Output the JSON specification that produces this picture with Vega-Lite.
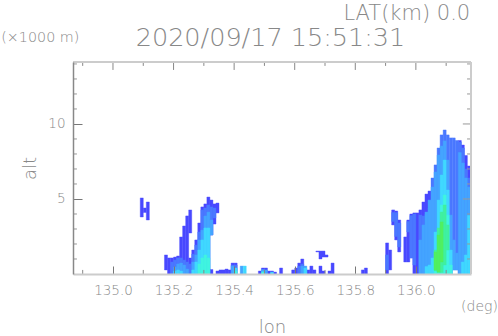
{"$schema":"https://vega.github.io/schema/vega-lite/v6.json","width":398,"height":212,"autosize":{"type":"none"},"padding":{"left":73,"top":62,"right":27,"bottom":62},"background":"white","config":{"view":{"stroke":null}},
"layer":[
{"data":{"values":[
{"lon":135.09,"lon2":135.10,"alt":3.8,"alt2":5.07,"level":1},{"lon":135.10,"lon2":135.11,"alt":4.1,"alt2":4.4,"level":1},{"lon":135.11,"lon2":135.12,"alt":3.6,"alt2":4.8,"level":1},
{"lon":135.17,"lon2":135.18,"alt":0.27,"alt2":1.27,"level":1},{"lon":135.18,"lon2":135.19,"alt":0,"alt2":1.07,"level":1},{"lon":135.19,"lon2":135.20,"alt":0,"alt2":1.07,"level":1},{"lon":135.20,"lon2":135.21,"alt":0,"alt2":1.13,"level":1},{"lon":135.21,"lon2":135.22,"alt":0,"alt2":1.2,"level":1},{"lon":135.22,"lon2":135.23,"alt":0,"alt2":2.47,"level":1},{"lon":135.23,"lon2":135.24,"alt":0,"alt2":3.2,"level":1},{"lon":135.24,"lon2":135.25,"alt":0,"alt2":3.87,"level":1},{"lon":135.25,"lon2":135.26,"alt":2.73,"alt2":4.27,"level":1},{"lon":135.25,"lon2":135.26,"alt":0,"alt2":1.07,"level":1},{"lon":135.26,"lon2":135.27,"alt":0,"alt2":1.6,"level":1},{"lon":135.27,"lon2":135.28,"alt":0,"alt2":2.27,"level":1},{"lon":135.28,"lon2":135.29,"alt":0,"alt2":3.4,"level":1},{"lon":135.29,"lon2":135.30,"alt":0,"alt2":4.47,"level":1},{"lon":135.30,"lon2":135.31,"alt":0,"alt2":4.67,"level":1},{"lon":135.31,"lon2":135.32,"alt":0,"alt2":5.13,"level":1},{"lon":135.32,"lon2":135.33,"alt":2.6,"alt2":4.93,"level":1},{"lon":135.32,"lon2":135.33,"alt":0,"alt2":0.3,"level":1},{"lon":135.33,"lon2":135.34,"alt":3.33,"alt2":4.67,"level":1},{"lon":135.34,"lon2":135.35,"alt":4.07,"alt2":4.73,"level":1},
{"lon":135.34,"lon2":135.35,"alt":0,"alt2":0.2,"level":1},{"lon":135.35,"lon2":135.36,"alt":0,"alt2":0.27,"level":1},{"lon":135.36,"lon2":135.37,"alt":0,"alt2":0.27,"level":1},{"lon":135.37,"lon2":135.38,"alt":0,"alt2":0.33,"level":1},{"lon":135.38,"lon2":135.39,"alt":0,"alt2":0.27,"level":1},{"lon":135.39,"lon2":135.40,"alt":0,"alt2":0.73,"level":1},{"lon":135.40,"lon2":135.41,"alt":0,"alt2":0.73,"level":1},
{"lon":135.48,"lon2":135.49,"alt":0,"alt2":0.2,"level":1},{"lon":135.49,"lon2":135.50,"alt":0,"alt2":0.4,"level":1},{"lon":135.50,"lon2":135.51,"alt":0,"alt2":0.4,"level":1},{"lon":135.51,"lon2":135.52,"alt":0,"alt2":0.2,"level":1},{"lon":135.52,"lon2":135.53,"alt":0,"alt2":0.2,"level":1},{"lon":135.53,"lon2":135.54,"alt":0,"alt2":0.13,"level":1},{"lon":135.55,"lon2":135.56,"alt":0,"alt2":0.4,"level":1},
{"lon":135.59,"lon2":135.60,"alt":0,"alt2":0.27,"level":1},{"lon":135.60,"lon2":135.61,"alt":0,"alt2":0.4,"level":1},{"lon":135.61,"lon2":135.62,"alt":0,"alt2":0.73,"level":1},{"lon":135.62,"lon2":135.63,"alt":0,"alt2":1.0,"level":1},{"lon":135.64,"lon2":135.65,"alt":0,"alt2":0.27,"level":1},{"lon":135.65,"lon2":135.66,"alt":0,"alt2":0.53,"level":1},{"lon":135.66,"lon2":135.67,"alt":0,"alt2":0.27,"level":1},{"lon":135.67,"lon2":135.68,"alt":1.47,"alt2":1.53,"level":1},{"lon":135.68,"lon2":135.69,"alt":0,"alt2":0.53,"level":1},{"lon":135.68,"lon2":135.69,"alt":1.0,"alt2":1.53,"level":1},{"lon":135.69,"lon2":135.70,"alt":1.13,"alt2":1.53,"level":1},{"lon":135.69,"lon2":135.70,"alt":0,"alt2":0.2,"level":1},{"lon":135.70,"lon2":135.71,"alt":1.13,"alt2":1.27,"level":1},{"lon":135.71,"lon2":135.72,"alt":0,"alt2":0.2,"level":1},{"lon":135.72,"lon2":135.73,"alt":0,"alt2":0.73,"level":1},{"lon":135.82,"lon2":135.83,"alt":0,"alt2":0.27,"level":1},{"lon":135.83,"lon2":135.84,"alt":0,"alt2":0.4,"level":1},
{"lon":135.90,"lon2":135.91,"alt":0,"alt2":2.07,"level":1},{"lon":135.91,"lon2":135.92,"alt":0.27,"alt2":1.6,"level":1},{"lon":135.92,"lon2":135.93,"alt":3.27,"alt2":4.27,"level":1},{"lon":135.93,"lon2":135.94,"alt":2.27,"alt2":4.2,"level":1},{"lon":135.94,"lon2":135.95,"alt":1.47,"alt2":3.6,"level":1},
{"lon":135.96,"lon2":135.97,"alt":0.8,"alt2":2.47,"level":1},{"lon":135.97,"lon2":135.98,"alt":0.8,"alt2":3.6,"level":1},{"lon":135.98,"lon2":135.99,"alt":1.07,"alt2":4,"level":1},{"lon":135.99,"lon2":136.00,"alt":0,"alt2":4.07,"level":1},{"lon":136.00,"lon2":136.01,"alt":0,"alt2":4.07,"level":1},{"lon":136.01,"lon2":136.02,"alt":0,"alt2":4.27,"level":1},{"lon":136.02,"lon2":136.03,"alt":0,"alt2":4.8,"level":1},{"lon":136.03,"lon2":136.04,"alt":0,"alt2":5.33,"level":1},{"lon":136.04,"lon2":136.05,"alt":0,"alt2":5.53,"level":1},{"lon":136.14,"lon2":136.15,"alt":0,"alt2":8.9,"level":1},{"lon":136.15,"lon2":136.16,"alt":0,"alt2":8.6,"level":1},{"lon":136.16,"lon2":136.17,"alt":0,"alt2":7.9,"level":1},{"lon":136.17,"lon2":136.18,"alt":0,"alt2":7.2,"level":1},
{"lon":135.19,"lon2":135.20,"alt":0,"alt2":0.8,"level":2},{"lon":135.20,"lon2":135.21,"alt":0,"alt2":0.93,"level":2},{"lon":135.21,"lon2":135.22,"alt":0,"alt2":1.07,"level":2},{"lon":135.22,"lon2":135.23,"alt":0,"alt2":1.07,"level":2},{"lon":135.23,"lon2":135.24,"alt":0,"alt2":0.93,"level":2},{"lon":135.24,"lon2":135.25,"alt":0,"alt2":0.8,"level":2},{"lon":135.25,"lon2":135.26,"alt":0,"alt2":0.67,"level":2},
{"lon":135.26,"lon2":135.27,"alt":0,"alt2":1.33,"level":2},{"lon":135.27,"lon2":135.28,"alt":0,"alt2":1.93,"level":2},{"lon":135.28,"lon2":135.29,"alt":0,"alt2":2.8,"level":2},{"lon":135.29,"lon2":135.30,"alt":0,"alt2":4.27,"level":2},{"lon":135.30,"lon2":135.31,"alt":0,"alt2":4.4,"level":2},{"lon":135.31,"lon2":135.32,"alt":0,"alt2":4.6,"level":2},{"lon":135.32,"lon2":135.33,"alt":2.6,"alt2":4.47,"level":2},{"lon":135.33,"lon2":135.34,"alt":3.73,"alt2":4.4,"level":2},
{"lon":135.39,"lon2":135.40,"alt":0,"alt2":0.6,"level":2},{"lon":135.40,"lon2":135.41,"alt":0,"alt2":0.6,"level":2},{"lon":135.61,"lon2":135.62,"alt":0,"alt2":0.53,"level":2},{"lon":135.62,"lon2":135.63,"alt":0,"alt2":0.67,"level":2},
{"lon":135.90,"lon2":135.91,"alt":0.27,"alt2":1.27,"level":2},{"lon":135.92,"lon2":135.93,"alt":3.5,"alt2":4.1,"level":2},{"lon":135.93,"lon2":135.94,"alt":2.5,"alt2":4.1,"level":2},{"lon":135.94,"lon2":135.95,"alt":1.8,"alt2":3.4,"level":2},
{"lon":135.97,"lon2":135.98,"alt":2.8,"alt2":3.5,"level":2},{"lon":135.98,"lon2":135.99,"alt":1.07,"alt2":3.9,"level":2},{"lon":135.99,"lon2":136.00,"alt":0.6,"alt2":4,"level":2},{"lon":136.01,"lon2":136.02,"alt":0,"alt2":3.93,"level":2},{"lon":136.02,"lon2":136.03,"alt":0,"alt2":3.87,"level":2},{"lon":136.03,"lon2":136.04,"alt":0,"alt2":4,"level":2},{"lon":136.04,"lon2":136.05,"alt":0,"alt2":4.4,"level":2},{"lon":136.05,"lon2":136.06,"alt":0,"alt2":6.4,"level":2},{"lon":136.06,"lon2":136.07,"alt":0,"alt2":7.27,"level":2},{"lon":136.07,"lon2":136.08,"alt":0,"alt2":8.4,"level":2},{"lon":136.08,"lon2":136.09,"alt":0,"alt2":9.27,"level":2},{"lon":136.09,"lon2":136.10,"alt":0,"alt2":9.6,"level":2},{"lon":136.10,"lon2":136.11,"alt":0,"alt2":9.27,"level":2},{"lon":136.11,"lon2":136.12,"alt":0,"alt2":9.07,"level":2},{"lon":136.12,"lon2":136.13,"alt":0.27,"alt2":9.07,"level":2},{"lon":136.13,"lon2":136.14,"alt":0.27,"alt2":8.9,"level":2},{"lon":136.14,"lon2":136.15,"alt":0,"alt2":8.8,"level":2},{"lon":136.15,"lon2":136.16,"alt":0,"alt2":8.4,"level":2},{"lon":136.16,"lon2":136.17,"alt":0,"alt2":7,"level":2},{"lon":136.17,"lon2":136.18,"alt":0,"alt2":6.4,"level":2},
{"lon":135.20,"lon2":135.21,"alt":0,"alt2":0.47,"level":3},{"lon":135.21,"lon2":135.22,"alt":0,"alt2":0.67,"level":3},{"lon":135.22,"lon2":135.23,"alt":0,"alt2":0.73,"level":3},{"lon":135.23,"lon2":135.24,"alt":0,"alt2":0.6,"level":3},{"lon":135.24,"lon2":135.25,"alt":0,"alt2":0.33,"level":3},
{"lon":135.26,"lon2":135.27,"alt":0,"alt2":0.8,"level":3},{"lon":135.27,"lon2":135.28,"alt":0,"alt2":1.27,"level":3},{"lon":135.28,"lon2":135.29,"alt":0,"alt2":2.27,"level":3},{"lon":135.29,"lon2":135.30,"alt":0,"alt2":2.93,"level":3},{"lon":135.30,"lon2":135.31,"alt":0,"alt2":3.87,"level":3},{"lon":135.31,"lon2":135.32,"alt":0,"alt2":4.13,"level":3},{"lon":135.32,"lon2":135.33,"alt":2.6,"alt2":3.6,"level":3},
{"lon":135.39,"lon2":135.40,"alt":0,"alt2":0.53,"level":3},{"lon":135.42,"lon2":135.43,"alt":0,"alt2":0.53,"level":3},{"lon":135.49,"lon2":135.50,"alt":0,"alt2":0.3,"level":3},{"lon":135.50,"lon2":135.51,"alt":0,"alt2":0.27,"level":3},{"lon":135.62,"lon2":135.63,"alt":0,"alt2":0.53,"level":3},{"lon":135.63,"lon2":135.64,"alt":0,"alt2":0.53,"level":3},
{"lon":136.01,"lon2":136.02,"alt":0,"alt2":2.27,"level":3},{"lon":136.02,"lon2":136.03,"alt":0,"alt2":3.27,"level":3},{"lon":136.03,"lon2":136.04,"alt":0,"alt2":4.13,"level":3},{"lon":136.04,"lon2":136.05,"alt":0,"alt2":4.93,"level":3},{"lon":136.05,"lon2":136.06,"alt":0,"alt2":5.8,"level":3},{"lon":136.06,"lon2":136.07,"alt":0,"alt2":6.8,"level":3},{"lon":136.07,"lon2":136.08,"alt":0,"alt2":7.93,"level":3},{"lon":136.08,"lon2":136.09,"alt":0,"alt2":8.53,"level":3},{"lon":136.09,"lon2":136.10,"alt":0,"alt2":8.87,"level":3},{"lon":136.10,"lon2":136.11,"alt":0,"alt2":7.6,"level":3},{"lon":136.11,"lon2":136.12,"alt":0,"alt2":3.93,"level":3},{"lon":136.12,"lon2":136.13,"alt":0.27,"alt2":2.27,"level":3},{"lon":136.13,"lon2":136.14,"alt":0.27,"alt2":1.4,"level":3},{"lon":136.14,"lon2":136.15,"alt":0,"alt2":8.1,"level":3},{"lon":136.15,"lon2":136.16,"alt":0,"alt2":7.4,"level":3},{"lon":136.16,"lon2":136.17,"alt":0,"alt2":6.4,"level":3},{"lon":136.17,"lon2":136.18,"alt":0,"alt2":5.8,"level":3},
{"lon":135.20,"lon2":135.21,"alt":0,"alt2":0.2,"level":4},{"lon":135.21,"lon2":135.22,"alt":0,"alt2":0.27,"level":4},{"lon":135.22,"lon2":135.23,"alt":0,"alt2":0.2,"level":4},
{"lon":135.26,"lon2":135.27,"alt":0,"alt2":0.27,"level":4},{"lon":135.27,"lon2":135.28,"alt":0,"alt2":0.8,"level":4},{"lon":135.28,"lon2":135.29,"alt":0,"alt2":1.6,"level":4},{"lon":135.29,"lon2":135.30,"alt":0,"alt2":2.27,"level":4},{"lon":135.30,"lon2":135.31,"alt":0,"alt2":3.07,"level":4},{"lon":135.31,"lon2":135.32,"alt":0,"alt2":3.07,"level":4},
{"lon":135.40,"lon2":135.41,"alt":0,"alt2":0.4,"level":4},{"lon":135.43,"lon2":135.44,"alt":0,"alt2":0.53,"level":4},{"lon":135.52,"lon2":135.53,"alt":0,"alt2":0.13,"level":4},{"lon":135.63,"lon2":135.64,"alt":0,"alt2":0.4,"level":4},
{"lon":136.03,"lon2":136.04,"alt":0,"alt2":0.5,"level":4},{"lon":136.04,"lon2":136.05,"alt":0,"alt2":0.6,"level":4},{"lon":136.05,"lon2":136.06,"alt":0,"alt2":1.07,"level":4},{"lon":136.06,"lon2":136.07,"alt":0,"alt2":2.8,"level":4},{"lon":136.07,"lon2":136.08,"alt":0,"alt2":4.93,"level":4},{"lon":136.08,"lon2":136.09,"alt":0,"alt2":6.6,"level":4},{"lon":136.09,"lon2":136.10,"alt":0,"alt2":7.6,"level":4},{"lon":136.10,"lon2":136.11,"alt":0,"alt2":5.6,"level":4},{"lon":136.11,"lon2":136.12,"alt":0,"alt2":1.6,"level":4},{"lon":136.15,"lon2":136.16,"alt":0,"alt2":0.8,"level":4},{"lon":136.16,"lon2":136.17,"alt":0,"alt2":1.27,"level":4},{"lon":136.17,"lon2":136.18,"alt":0,"alt2":3.9,"level":4},
{"lon":135.28,"lon2":135.29,"alt":0,"alt2":0.67,"level":5},{"lon":135.29,"lon2":135.30,"alt":0,"alt2":1.07,"level":5},{"lon":135.30,"lon2":135.31,"alt":0,"alt2":1.27,"level":5},{"lon":135.31,"lon2":135.32,"alt":0,"alt2":1.07,"level":5},{"lon":135.40,"lon2":135.41,"alt":0,"alt2":0.2,"level":5},{"lon":135.49,"lon2":135.50,"alt":0,"alt2":0.15,"level":5},
{"lon":136.06,"lon2":136.07,"alt":0,"alt2":0.6,"level":5},{"lon":136.07,"lon2":136.08,"alt":0,"alt2":1.93,"level":5},{"lon":136.08,"lon2":136.09,"alt":0,"alt2":4.6,"level":5},{"lon":136.09,"lon2":136.10,"alt":0,"alt2":5.27,"level":5},{"lon":136.10,"lon2":136.11,"alt":0,"alt2":3.93,"level":5},{"lon":136.11,"lon2":136.12,"alt":0,"alt2":0.6,"level":5},
{"lon":136.06,"lon2":136.07,"alt":0.2,"alt2":1.6,"level":6},{"lon":136.07,"lon2":136.08,"alt":0.1,"alt2":3.07,"level":6},{"lon":136.08,"lon2":136.09,"alt":0.1,"alt2":4.13,"level":6},{"lon":136.09,"lon2":136.10,"alt":0.6,"alt2":4.6,"level":6},{"lon":136.10,"lon2":136.11,"alt":1.6,"alt2":3.27,"level":6},
{"lon":136.06,"lon2":136.07,"alt":0.27,"alt2":1.47,"level":7},{"lon":136.07,"lon2":136.08,"alt":0.13,"alt2":2.6,"level":7},{"lon":136.08,"lon2":136.09,"alt":0.8,"alt2":3.47,"level":7}
]},
"mark":{"type":"rect","strokeWidth":0.4,"clip":true},
"encoding":{
"x":{"field":"lon","type":"quantitative","scale":{"domain":[134.868,136.182],"nice":false,"zero":false},
"axis":{"values":[135,135.2,135.4,135.6,135.8,136],"format":".1f","tickSize":-8,"tickColor":"#777","tickWidth":1,"domainColor":"#ccc","domainWidth":2,"grid":false,"labelFont":"DejaVu Sans","labelFontWeight":200,"labelFontSize":13.5,"labelColor":"#888","labelPadding":17,"title":"lon","titleFont":"DejaVu Sans","titleFontSize":18,"titleFontWeight":200,"titleColor":"#888","titlePadding":22,"zindex":1}},
"x2":{"field":"lon2"},
"y":{"field":"alt","type":"quantitative","scale":{"domain":[0,14.13],"nice":false},
"axis":{"values":[5,10],"format":"d","tickSize":-9,"tickColor":"#777","tickWidth":1,"domainColor":"#888","domainWidth":1.5,"grid":false,"labelFont":"DejaVu Sans","labelFontWeight":200,"labelFontSize":13.5,"labelColor":"#888","labelPadding":17,"title":"alt","titleFont":"DejaVu Sans","titleFontSize":18,"titleFontWeight":200,"titleColor":"#888","titlePadding":8,"zindex":1}},
"y2":{"field":"alt2"},
"fill":{"field":"level","type":"ordinal","scale":{"domain":[1,2,3,4,5,6,7],"range":["#4848ff","#4a78ff","#44a4ff","#40d8ff","#40f4e0","#40f0a0","#50f060"]},"legend":null},
"stroke":{"field":"level","type":"ordinal","scale":{"domain":[1,2,3,4,5,6,7],"range":["#4848ff","#4a78ff","#44a4ff","#40d8ff","#40f4e0","#40f0a0","#50f060"]},"legend":null}
}},
{"data":{"values":[
{"lon":134.9,"y0":0,"y1":0.27},{"lon":135.1,"y0":0,"y1":0.27},{"lon":135.3,"y0":0,"y1":0.27},{"lon":135.5,"y0":0,"y1":0.27},{"lon":135.7,"y0":0,"y1":0.27},{"lon":135.9,"y0":0,"y1":0.27},{"lon":136.1,"y0":0,"y1":0.27},
{"lon":134.9,"y0":14.13,"y1":13.87},{"lon":135.1,"y0":14.13,"y1":13.87},{"lon":135.3,"y0":14.13,"y1":13.87},{"lon":135.5,"y0":14.13,"y1":13.87},{"lon":135.7,"y0":14.13,"y1":13.87},{"lon":135.9,"y0":14.13,"y1":13.87},{"lon":136.1,"y0":14.13,"y1":13.87},
{"lon":135.0,"y0":14.13,"y1":13.6},{"lon":135.2,"y0":14.13,"y1":13.6},{"lon":135.4,"y0":14.13,"y1":13.6},{"lon":135.6,"y0":14.13,"y1":13.6},{"lon":135.8,"y0":14.13,"y1":13.6},{"lon":136.0,"y0":14.13,"y1":13.6}
]},"mark":{"type":"rule","color":"#888","strokeWidth":1},"encoding":{"x":{"field":"lon","type":"quantitative"},"y":{"field":"y0","type":"quantitative"},"y2":{"field":"y1"}}},
{"data":{"values":[
{"alt":1,"x0":134.868,"x1":134.881},{"alt":2,"x0":134.868,"x1":134.881},{"alt":3,"x0":134.868,"x1":134.881},{"alt":4,"x0":134.868,"x1":134.881},{"alt":6,"x0":134.868,"x1":134.881},{"alt":7,"x0":134.868,"x1":134.881},{"alt":8,"x0":134.868,"x1":134.881},{"alt":9,"x0":134.868,"x1":134.881},{"alt":11,"x0":134.868,"x1":134.881},{"alt":12,"x0":134.868,"x1":134.881},{"alt":13,"x0":134.868,"x1":134.881},{"alt":14,"x0":134.868,"x1":134.881},
{"alt":1,"x0":136.182,"x1":136.169},{"alt":2,"x0":136.182,"x1":136.169},{"alt":3,"x0":136.182,"x1":136.169},{"alt":4,"x0":136.182,"x1":136.169},{"alt":5,"x0":136.182,"x1":136.155},{"alt":6,"x0":136.182,"x1":136.169},{"alt":7,"x0":136.182,"x1":136.169},{"alt":8,"x0":136.182,"x1":136.169},{"alt":9,"x0":136.182,"x1":136.169},{"alt":10,"x0":136.182,"x1":136.155},{"alt":11,"x0":136.182,"x1":136.169},{"alt":12,"x0":136.182,"x1":136.169},{"alt":13,"x0":136.182,"x1":136.169},{"alt":14,"x0":136.182,"x1":136.169}
]},"mark":{"type":"rule","color":"#999","strokeWidth":1},"encoding":{"y":{"field":"alt","type":"quantitative"},"x":{"field":"x0","type":"quantitative"},"x2":{"field":"x1"}}},
{"data":{"values":[{"a":134.868,"b":136.182,"t":14.13}]},"mark":{"type":"rule","color":"#ccc","strokeWidth":2},"encoding":{"x":{"field":"a","type":"quantitative"},"x2":{"field":"b"},"y":{"field":"t","type":"quantitative"}}},
{"data":{"values":[{"a":136.182,"b":0,"t":14.13}]},"mark":{"type":"rule","color":"#ccc","strokeWidth":2},"encoding":{"x":{"field":"a","type":"quantitative"},"y":{"field":"b","type":"quantitative"},"y2":{"field":"t"}}},
{"data":{"values":[
{"lon":135.52,"alt":15.73,"label":"2020/09/17 15:51:31","size":25.5},
{"lon":135.97,"alt":17.3,"label":"LAT(km) 0.0","size":21},
{"lon":134.76,"alt":15.73,"label":"(×1000 m)","size":14.3},
{"lon":136.21,"alt":-2.2,"label":"(deg)","size":14}
]},"mark":{"type":"text","font":"DejaVu Sans","fontWeight":200,"color":"#888","align":"center","baseline":"middle","clip":false},
"encoding":{"x":{"field":"lon","type":"quantitative"},"y":{"field":"alt","type":"quantitative"},"text":{"field":"label"},"size":{"field":"size","type":"quantitative","scale":null}}}
]}
